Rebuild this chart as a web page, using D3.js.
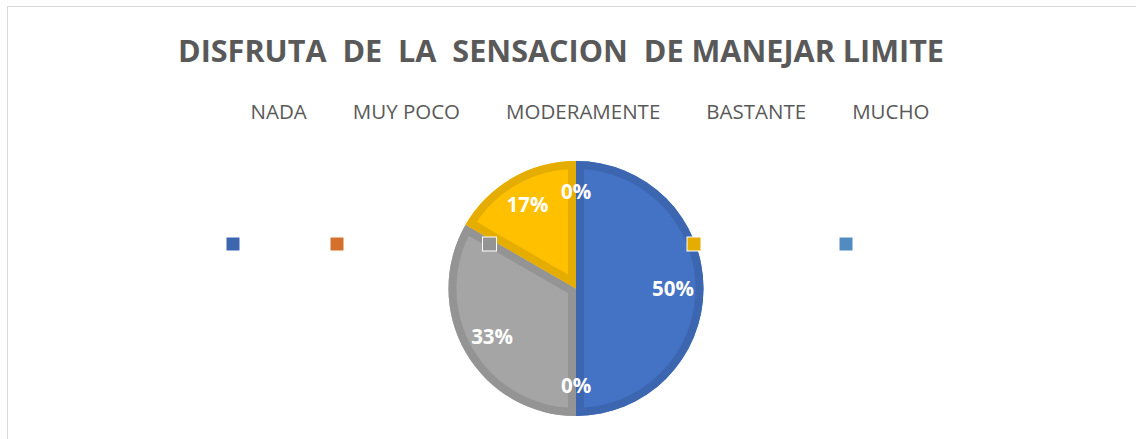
<!DOCTYPE html>
<html>
<head>
<meta charset="utf-8">
<script src="https://cdn.jsdelivr.net/npm/d3@7"></script>
<style>
  body { margin: 0; background: #fff; }
  svg { display: block; }
</style>
</head>
<body>
<svg id="chart" width="1136" height="439"></svg>
<script>
// data
const title = "DISFRUTA  DE  LA  SENSACION  DE MANEJAR LIMITE";
const categories = ["NADA", "MUY POCO", "MODERAMENTE", "BASTANTE", "MUCHO"];
const counts = [3, 0, 2, 1, 0];
const colors = ["#4472C4", "#ED7D31", "#A5A5A5", "#FFC000", "#5B9BD5"];

const W = 1136, H = 439;
const svg = d3.select("#chart");

// outer frame (only top and left edges visible)
svg.append("rect")
    .attr("x", 7.5).attr("y", 6.5)
    .attr("width", W + 10).attr("height", H + 10)
    .attr("fill", "none").attr("stroke", "#d9d9d9");

svg.append("text")
    .attr("x", 561).attr("y", 62)
    .attr("text-anchor", "middle")
    .style("white-space", "pre")
    .attr("textLength", 766).attr("lengthAdjust", "spacingAndGlyphs")
    .style("font-family", "'Open Sans', sans-serif")
    .style("font-weight", "bold").style("font-size", "31px")
    .attr("fill", "#595959")
    .text(title);

// legend labels, laid out one after the other
const legendG = svg.append("g").attr("transform", "translate(0,119)");
const labels = legendG.selectAll("text").data(categories).join("text")
    .style("font-family", "'Open Sans', sans-serif")
    .style("font-size", "20.5px")
    .attr("fill", "#595959")
    .text(d => d);
const gap = 46;
const widths = labels.nodes().map(n => n.getComputedTextLength());
const total = d3.sum(widths) + gap * (widths.length - 1);
let cursor = 590 - total / 2;
labels.attr("x", (d, i) => { const x = cursor; cursor += widths[i] + gap; return x; });

const cx = 576, cy = 288.5, r = 127.5;
const total_n = d3.sum(counts);

const pie = d3.pie().sort(null).value(d => d.v);
const arcs = pie(categories.map((c, i) => ({ c, v: counts[i], color: colors[i] })));
const arc = d3.arc().innerRadius(0).outerRadius(r);
const labelArc = d3.arc().innerRadius(r * 0.76).outerRadius(r * 0.76);

const g = svg.append("g").attr("transform", `translate(${cx},${cy})`);
const defs = svg.append("defs");

arcs.forEach((a, i) => {
    if (a.data.v === 0) return;
    defs.append("clipPath").attr("id", "clip" + i)
        .append("path").attr("d", arc(a));
    g.append("path").attr("d", arc(a)).attr("fill", a.data.color);
    g.append("path").attr("d", arc(a))
        .attr("fill", "none")
        .attr("stroke", d3.color(a.data.color).darker(0.3))
        .attr("stroke-width", 16)
        .attr("clip-path", `url(#clip${i})`);
});

g.selectAll("text.pct").data(arcs).join("text")
    .attr("class", "pct")
    .attr("transform", d => `translate(${labelArc.centroid(d)})`)
    .attr("text-anchor", "middle").attr("dy", "0.35em")
    .style("font-family", "'Open Sans', sans-serif")
    .style("font-weight", "bold").style("font-size", "20.5px")
    .attr("fill", "#fff")
    .text(d => Math.round(d.data.v / total_n * 100) + "%");

// legend markers sit on their own row, apart from the labels
const markerX = d3.scaleOrdinal().domain(categories).range([233, 337, 489.5, 694, 846]);
svg.append("g").selectAll("rect").data(categories).join("rect")
    .attr("x", d => markerX(d) - 7).attr("y", 237)
    .attr("width", 14).attr("height", 14)
    .attr("fill", (d, i) => d3.color(colors[i]).darker(0.3))
    .attr("stroke", "#fff").attr("stroke-width", 1);
</script>
</body>
</html>
